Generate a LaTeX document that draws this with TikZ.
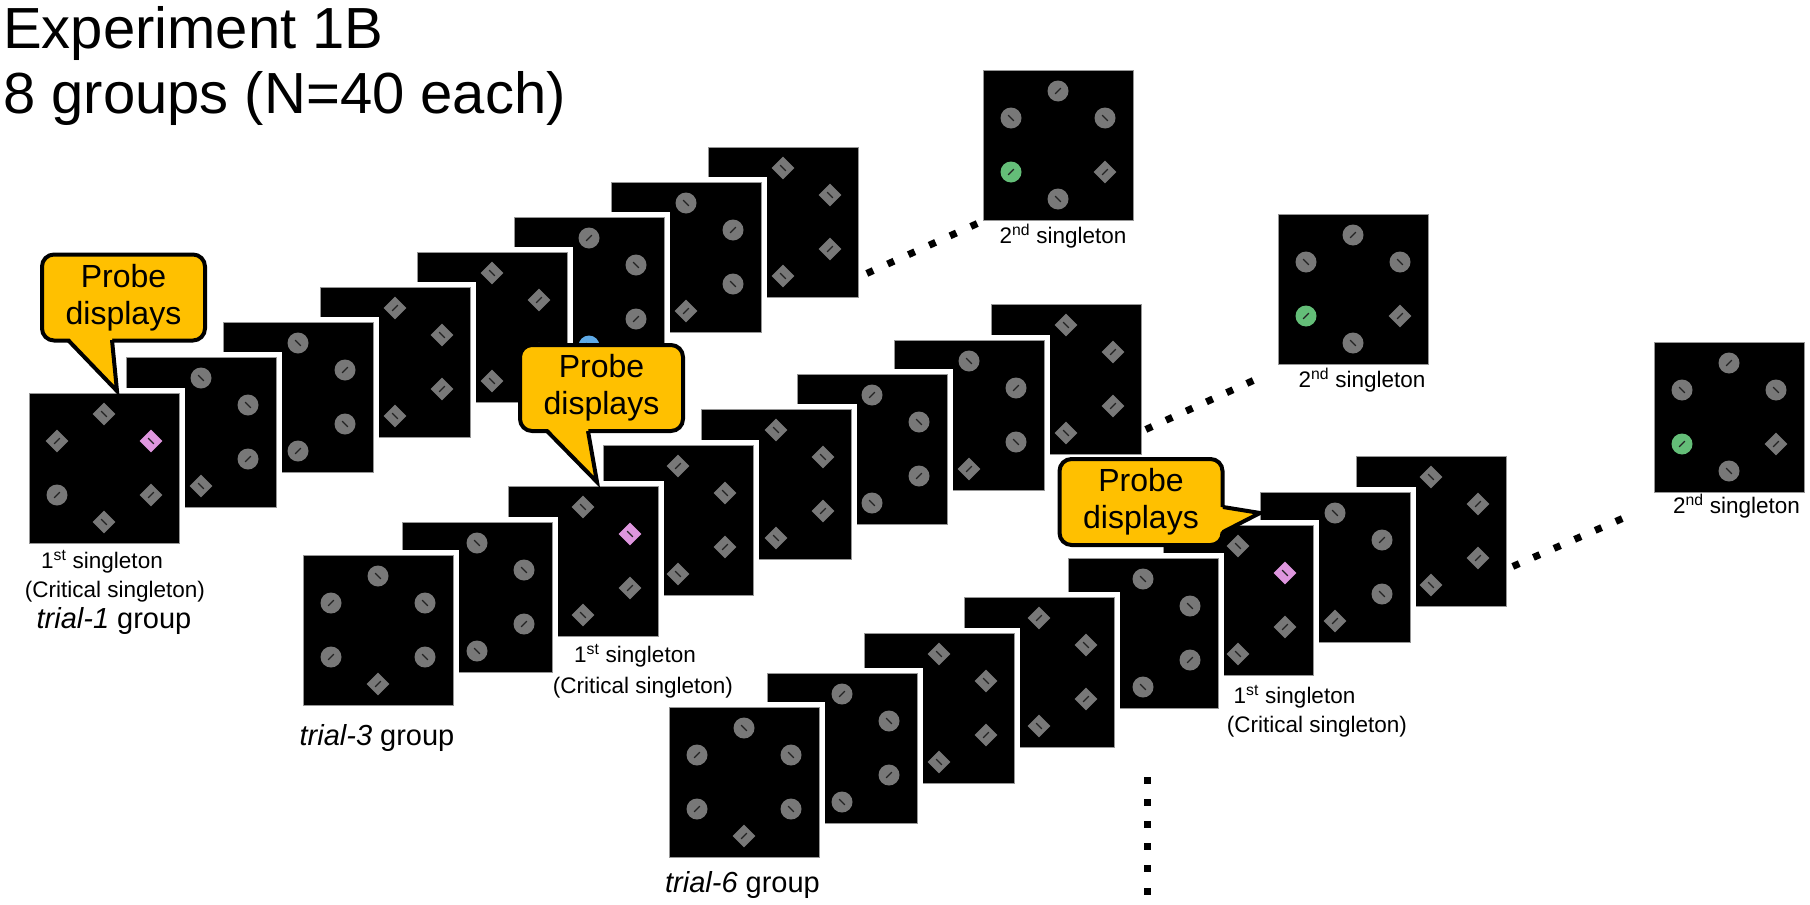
\documentclass[tikz,border=0pt]{standalone}
\usepackage{fontspec}
\setmainfont{Liberation Sans}
\usetikzlibrary{calc}
\definecolor{igray}{RGB}{120,120,120}
\definecolor{ilinec}{RGB}{35,35,35}
\definecolor{ipink}{RGB}{222,150,222}
\definecolor{igreen}{RGB}{100,190,120}
\definecolor{iblue}{RGB}{95,170,230}
\definecolor{cyellow}{RGB}{255,192,0}
\definecolor{sqedge}{RGB}{150,150,150}
\tikzset{
  itemline/.style={draw=ilinec, line width=1.3pt},
  dotsq/.style={rectangle, fill=black, minimum size=7pt, inner sep=0pt},
  callbox/.style={draw=black, line width=4pt, fill=cyellow, rounded corners=12pt,
    minimum width=163pt, minimum height=86pt, align=center, inner sep=0pt,
    font=\fontsize{32}{37}\selectfont},
  cline/.style={draw=black, line width=4pt, line join=miter},
  lab/.style={font=\fontsize{22.5}{27}\selectfont, inner sep=0pt, anchor=base},
  grp/.style={font=\fontsize{29}{35}\selectfont, inner sep=0pt, anchor=base},
  ttl/.style={font=\fontsize{58}{65}\selectfont, inner sep=0pt, anchor=base west}
}
\newcommand\dfill[2]{\fill[#1] ([yshift=11.3pt]#2) -- ([xshift=11.3pt]#2) -- ([yshift=-11.3pt]#2) -- ([xshift=-11.3pt]#2) -- cycle;}
\def\itmx#1#2\relax#3{%
  \if#1C\fill[igray] (#3) circle[radius=10.5pt];\fi
  \if#1G\fill[igreen] (#3) circle[radius=10.5pt];\fi
  \if#1B\fill[iblue] (#3) circle[radius=10.5pt];\fi
  \if#1D\dfill{igray}{#3}\fi
  \if#1P\dfill{ipink}{#3}\fi
  \if#2l\draw[itemline] ([shift={(135:4pt)}]#3) -- ([shift={(-45:4pt)}]#3);%
  \else\draw[itemline] ([shift={(45:4pt)}]#3) -- ([shift={(-135:4pt)}]#3);\fi}
\newcommand\itm[2]{\itmx#2\relax{#1}}
\newcommand\disp[9]{%
  \fill[white] (#2-5.5,#3-5.5) rectangle (#2+155.5,#3+155.5);
  \filldraw[fill=black, draw=sqedge, line width=1pt] (#2,#3) rectangle (#2+150,#3+150);
  \coordinate (#1) at (#2+75,#3+75);
  \coordinate (#1-1) at (#2+75,#3+21);
  \coordinate (#1-2) at (#2+28,#3+48);
  \coordinate (#1-3) at (#2+122,#3+48);
  \coordinate (#1-4) at (#2+28,#3+102);
  \coordinate (#1-5) at (#2+122,#3+102);
  \coordinate (#1-6) at (#2+75,#3+129);
  \itm{#1-1}{#4}\itm{#1-2}{#5}\itm{#1-3}{#6}%
  \itm{#1-4}{#7}\itm{#1-5}{#8}\itm{#1-6}{#9}}
\begin{document}
\begin{tikzpicture}[x=1pt,y=-1pt]
\useasboundingbox (0,0) rectangle (1810,905);
\fill[white] (0,0) rectangle (1810,905);

% title
\node[ttl] (t1) at (3,48) {Experiment 1B};
\node[ttl] (t2) at (3,113) {8 groups (N=40 each)};

% trial-1 group
\disp{a8}{708}{147}{Dl}{Dr}{Dl}{Cr}{Dr}{Dl}
\disp{a7}{611}{182}{Cl}{Cr}{Cr}{Cl}{Cl}{Dr}
\disp{a6}{514}{217}{Cr}{Cl}{Cl}{Cr}{Cr}{Bl}
\disp{a5}{417}{252}{Dl}{Cr}{Dr}{Dl}{Dr}{Dl}
\disp{a4}{320}{287}{Dr}{Dl}{Dl}{Cr}{Dr}{Dl}
\disp{a3}{223}{322}{Cl}{Cr}{Cr}{Cl}{Cl}{Cr}
\disp{a2}{126}{357}{Cl}{Cr}{Cl}{Cl}{Cr}{Dl}
\disp{a1}{29}{393}{Dl}{Dr}{Pl}{Cr}{Dr}{Dl}

% trial-3 group
\disp{b8}{991}{304}{Dl}{Cr}{Dr}{Dl}{Dr}{Dl}
\disp{b7}{894}{340}{Cl}{Cr}{Cr}{Cl}{Cl}{Dr}
\disp{b6}{797}{374}{Cr}{Cl}{Cl}{Dr}{Cr}{Cl}
\disp{b5}{701}{409}{Dl}{Dr}{Dl}{Cr}{Dr}{Dl}
\disp{b4}{603}{445}{Dr}{Cl}{Dl}{Dr}{Dr}{Dl}
\disp{b3}{508}{486}{Dl}{Cr}{Pl}{Dr}{Dr}{Dl}
\disp{b2}{402}{522}{Cl}{Cr}{Cl}{Dl}{Cr}{Cl}
\disp{b1}{303}{555}{Cl}{Cr}{Cl}{Cr}{Cl}{Dr}

% trial-6 group
\disp{c8}{1356}{456}{Dl}{Cr}{Dr}{Dl}{Dr}{Dl}
\disp{c7}{1260}{492}{Cl}{Cr}{Cr}{Cl}{Cl}{Dr}
\disp{c6}{1163}{525}{Dl}{Cr}{Pl}{Dr}{Dr}{Dl}
\disp{c5}{1068}{558}{Cl}{Cr}{Cl}{Dl}{Cr}{Cl}
\disp{c4}{964}{597}{Dr}{Cl}{Dl}{Dr}{Dr}{Dl}
\disp{c3}{864}{633}{Dl}{Dr}{Dl}{Cr}{Dr}{Dl}
\disp{c2}{767}{673}{Cr}{Cl}{Cl}{Dr}{Cr}{Cl}
\disp{c1}{669}{707}{Cl}{Cr}{Cl}{Cr}{Cl}{Dr}

% second singleton displays
\disp{s1}{983}{70}{Cr}{Cl}{Cl}{Gr}{Dr}{Cl}
\disp{s2}{1278}{214}{Cr}{Cl}{Cl}{Gr}{Dr}{Cl}
\disp{s3}{1654}{342}{Cr}{Cl}{Cl}{Gr}{Dr}{Cl}

% callouts
\node[callbox] (cb1) at (123.5,297.5) {Probe\\displays};
\fill[cyellow] (68,337) -- (117,391) -- (112,337) -- cycle;
\draw[cline] (68,340) -- (117,391) -- (112,340);

\node[callbox] (cb2) at (601.5,388) {Probe\\displays};
\fill[cyellow] (547,428) -- (597,482) -- (588,428) -- cycle;
\draw[cline] (547,431) -- (597,482) -- (588,431);

\node[callbox] (cb3) at (1141,502) {Probe\\displays};
\fill[cyellow] (1220,507) -- (1260,513) -- (1220,532) -- cycle;
\draw[cline] (1223,507) -- (1260,513) -- (1223,532);

% dotted connectors
\coordinate (d1a) at (870,272); \coordinate (d1b) at (974,225);
\coordinate (d2a) at (1149,428); \coordinate (d2b) at (1250,382);
\coordinate (d3a) at (1516,565); \coordinate (d3b) at (1619,520);
\coordinate (v1) at (1147,780); \coordinate (v2) at (1147,891);
\foreach \p in {0,0.2,0.4,0.6,0.8,1}{
  \path (d1a) -- (d1b) node[dotsq,pos=\p,sloped]{};
  \path (d2a) -- (d2b) node[dotsq,pos=\p,sloped]{};
  \path (d3a) -- (d3b) node[dotsq,pos=\p,sloped]{};
  \path (v1) -- (v2) node[dotsq,pos=\p]{};
}

% labels
\node[lab] (l1a) at (102,568) {1\textsuperscript{st} singleton};
\node[lab] (l1b) at (115,597) {(Critical singleton)};
\node[grp] (g1) at (114,628) {\textit{trial-1} group};

\node[lab] (l3a) at (635,662) {1\textsuperscript{st} singleton};
\node[lab] (l3b) at (643,693) {(Critical singleton)};
\node[grp] (g3) at (377,745) {\textit{trial-3} group};

\node[lab] (l6a) at (1294.5,703) {1\textsuperscript{st} singleton};
\node[lab] (l6b) at (1317,732) {(Critical singleton)};
\node[grp] (g6) at (742.5,892) {\textit{trial-6} group};

\node[lab] (s1l) at (1063,243) {2\textsuperscript{nd} singleton};
\node[lab] (s2l) at (1362,387) {2\textsuperscript{nd} singleton};
\node[lab] (s3l) at (1736.5,513) {2\textsuperscript{nd} singleton};
\end{tikzpicture}
\end{document}
